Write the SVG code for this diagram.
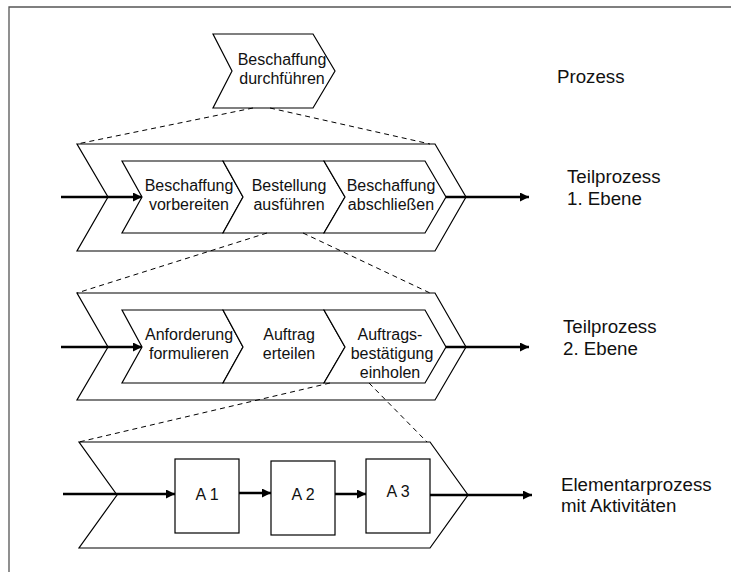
<svg xmlns="http://www.w3.org/2000/svg" width="731" height="572" viewBox="0 0 731 572">
<defs>
<marker id="ah" viewBox="0 0 10 10" refX="10" refY="5" markerWidth="10" markerHeight="9" markerUnits="userSpaceOnUse" orient="auto"><path d="M0,0L10,5L0,10z" fill="#000"/></marker>
<style>
.shape{fill:#fff;stroke:#000;stroke-width:1.2}
.frame{fill:none;stroke:#555;stroke-width:1.3}
.flow{fill:none;stroke:#000;stroke-width:2.5;marker-end:url(#ah)}
.dash{fill:none;stroke:#000;stroke-width:1;stroke-dasharray:5 4}
.t{font-family:"Liberation Sans",Arial,sans-serif;font-size:16px;fill:#111;text-anchor:middle}
.lbl{font-family:"Liberation Sans",Arial,sans-serif;font-size:18.7px;fill:#111}
</style>
</defs>
<rect width="731" height="572" fill="#fff"/>
<path class="frame" d="M9,572V7H731"/>

<g id="prozess">
<polygon class="shape" points="213,34 313,34 335,71 313,108 213,108 232,71"/>
<text class="t" x="282" y="65">Beschaffung</text>
<text class="t" x="282" y="84">durchführen</text>
</g>

<g id="ebene1-outer"><polygon class="shape" points="77,144 435,144 466,197 435,251 77,251 108,197"/></g>
<g id="ebene2-outer"><polygon class="shape" points="77,293 435,293 466,347 435,400 77,400 108,347"/></g>
<g id="ebene3-outer"><polygon class="shape" points="79,442 430,442 468,495 430,548 79,548 117,495"/></g>

<g id="e1-c1">
<polygon class="shape" points="122,161 223,161 243,197 223,233 122,233 142,197"/>
<text class="t" x="189" y="191">Beschaffung</text>
<text class="t" x="189" y="210">vorbereiten</text>
</g>
<g id="e1-c2">
<polygon class="shape" points="223,161 324,161 345,197 324,233 223,233 243,197"/>
<text class="t" x="289" y="191">Bestellung</text>
<text class="t" x="289" y="210">ausführen</text>
</g>
<g id="e1-c3">
<polygon class="shape" points="324,161 425,161 446,197 425,233 324,233 345,197"/>
<text class="t" x="391" y="191">Beschaffung</text>
<text class="t" x="391" y="210">abschließen</text>
</g>

<g id="e2-c1">
<polygon class="shape" points="122,310 223,310 243,347 223,383 122,383 142,347"/>
<text class="t" x="189" y="340">Anforderung</text>
<text class="t" x="189" y="359">formulieren</text>
</g>
<g id="e2-c2">
<polygon class="shape" points="223,310 324,310 345,347 324,383 223,383 243,347"/>
<text class="t" x="289" y="340">Auftrag</text>
<text class="t" x="289" y="359">erteilen</text>
</g>
<g id="e2-c3">
<polygon class="shape" points="324,310 425,310 446,347 425,383 324,383 345,347"/>
<text class="t" x="390" y="340">Auftrags-</text>
<text class="t" x="392" y="359">bestätigung</text>
<text class="t" x="390" y="378">einholen</text>
</g>

<g id="a1">
<rect class="shape" x="175" y="459" width="64" height="74"/>
<text class="t" x="207" y="500">A 1</text>
</g>
<g id="a2">
<rect class="shape" x="271" y="461" width="64" height="74"/>
<text class="t" x="303" y="500">A 2</text>
</g>
<g id="a3">
<rect class="shape" x="366" y="459" width="64" height="74"/>
<text class="t" x="398" y="497">A 3</text>
</g>

<g id="labels">
<text class="lbl" x="557" y="83">Prozess</text>
<text class="lbl" x="567" y="183">Teilprozess</text>
<text class="lbl" x="567" y="205">1. Ebene</text>
<text class="lbl" x="563" y="333">Teilprozess</text>
<text class="lbl" x="563" y="355">2. Ebene</text>
<text class="lbl" x="561" y="491">Elementarprozess</text>
<text class="lbl" x="561" y="512">mit Aktivitäten</text>
</g>

<g id="connectors">
<line class="dash" x1="253" y1="108" x2="77" y2="144"/>
<line class="dash" x1="270" y1="108" x2="430" y2="144"/>
<line class="dash" x1="267" y1="233" x2="77" y2="293"/>
<line class="dash" x1="303" y1="233" x2="430" y2="293"/>
<line class="dash" x1="330" y1="383" x2="79" y2="442"/>
<line class="dash" x1="369" y1="383" x2="427" y2="442"/>
<line class="flow" x1="61" y1="197" x2="142" y2="197"/>
<line class="flow" x1="446" y1="197" x2="529" y2="197"/>
<line class="flow" x1="61" y1="347" x2="142" y2="347"/>
<line class="flow" x1="446" y1="347" x2="529" y2="347"/>
<line class="flow" x1="63" y1="494" x2="175" y2="494"/>
<line class="flow" x1="239" y1="493" x2="271" y2="493"/>
<line class="flow" x1="335" y1="494" x2="366" y2="494"/>
<line class="flow" x1="430" y1="495" x2="532" y2="495"/>
</g>
</svg>
